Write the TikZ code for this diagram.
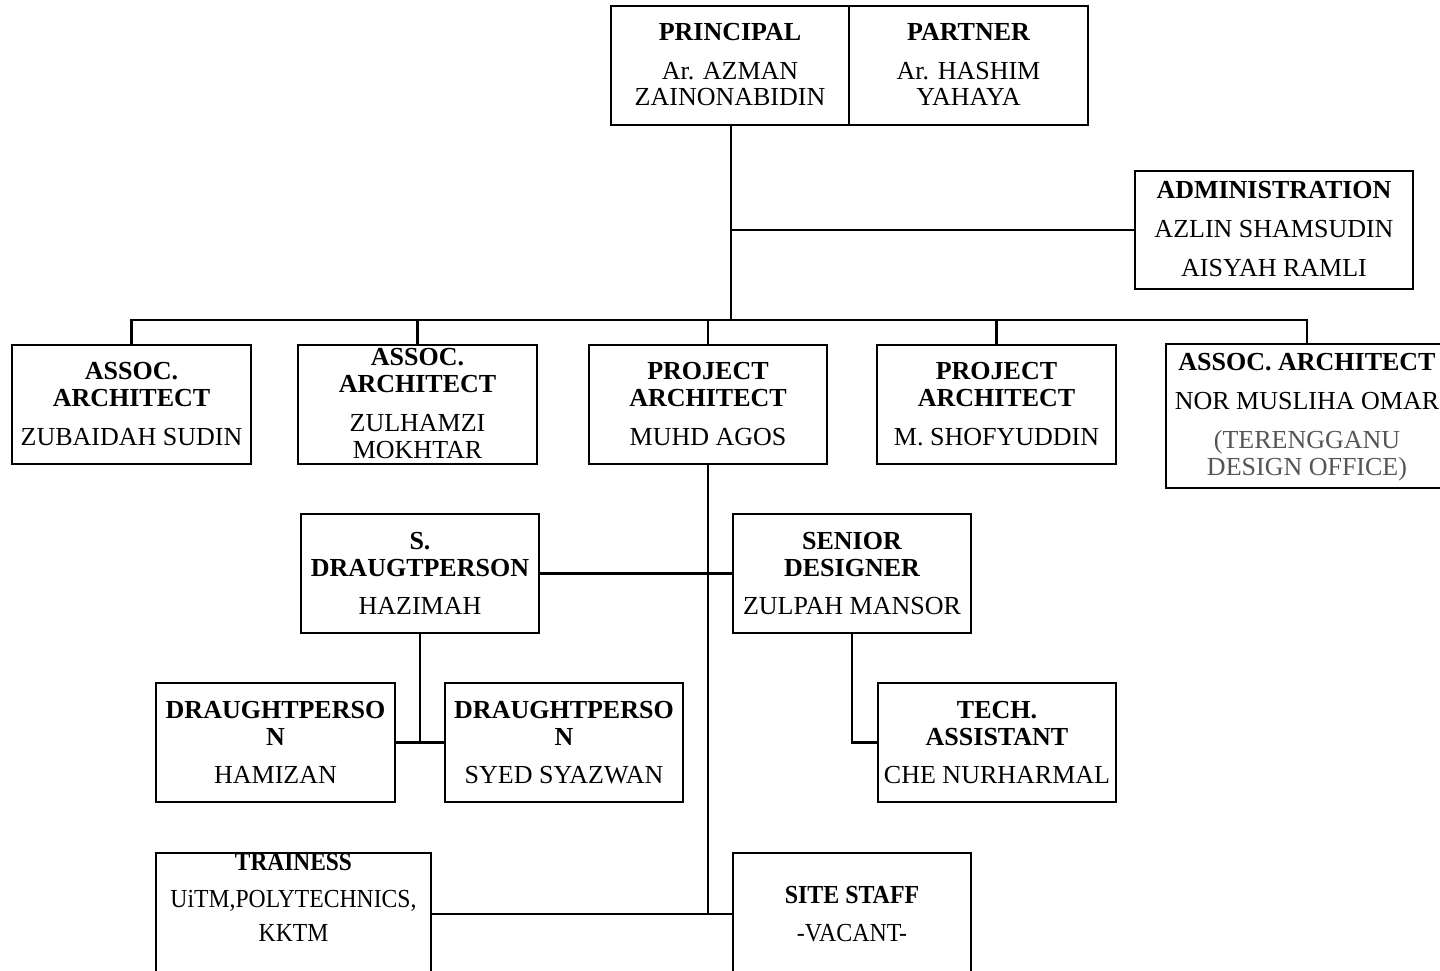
\documentclass[tikz,border=0pt]{standalone}
\usepackage{fontspec}
\setmainfont{Liberation Serif}
\definecolor{greytxt}{RGB}{85,85,85}
\tikzset{
  box/.style={draw=black, line width=2.6pt, rectangle, inner sep=0pt, fill=white},
  link/.style={draw=black, line width=2.2pt},
  txt/.style={anchor=base, inner sep=0pt, font=\fontsize{26}{27}\selectfont},
  hd/.style={txt, font=\fontsize{26}{27}\selectfont\bfseries},
  gtxt/.style={txt, text=greytxt}
}
\newcommand\boxat[5]{% name x1 y1 x2 y2
  \node[box, minimum width={#4-#2}, minimum height={#5-#3}] (#1) at ({(#2+#4)/2},{(#3+#5)/2}) {};}
\begin{document}
\begin{tikzpicture}[x=1pt,y=-1pt]
\useasboundingbox (0,0) rectangle (1440,970);
% coordinates
\coordinate (bus) at (0,320);
\coordinate (j1) at (731,320);
% boxes
\boxat{principal}{611}{6}{849}{125}
\boxat{partner}{849}{6}{1088}{125}
\boxat{admin}{1135}{171}{1413}{289}
\boxat{ac1}{12}{345}{251}{464}
\boxat{ac2}{298}{345}{537}{464}
\boxat{pa1}{589}{345}{827}{464}
\boxat{pa2}{877}{345}{1116}{464}
\boxat{ac5}{1166}{344}{1448}{488}
\boxat{sd}{301}{514}{539}{633}
\boxat{sdes}{733}{514}{971}{633}
\boxat{dp1}{156}{683}{395}{802}
\boxat{dp2}{445}{683}{683}{802}
\boxat{tech}{878}{683}{1116}{802}
\boxat{train}{156}{853}{431}{975}
\boxat{site}{733}{853}{971}{975}
\coordinate (ja) at (j1 |- admin.west);
% connectors
\draw[link] (j1 |- principal.south) -- (j1);
\draw[link] (ja) -- (admin.west);
\draw[link] (ac1.north) -- (ac1.north |- bus) -- (ac5.north |- bus) -- (ac5.north);
\draw[link] (ac2.north) -- (ac2.north |- bus);
\draw[link] (pa1.north) -- (pa1.north |- bus);
\draw[link] (pa2.north) -- (pa2.north |- bus);
\draw[link] (pa1.south) -- (pa1.south |- site.west);
\draw[link] (sd.east) -- (sdes.west);
\draw[link] (sd.south) -- (sd.south |- dp1.east);
\draw[link] (dp1.east) -- (dp2.west);
\draw[link] (sdes.south) |- (tech.west);
\draw[link] (train.east) -- (site.west);
% texts
\node[hd] (t1) at (730,32+8.6) {PRINCIPAL};
\node[txt] (t2) at (730,71+8.6) {Ar. AZMAN};
\node[txt] (t3) at (730,97+8.6) {ZAINONABIDIN};
\node[hd] (t4) at (968.5,32+8.6) {PARTNER};
\node[txt] (t5) at (968.5,71+8.6) {Ar. HASHIM};
\node[txt] (t6) at (968.5,97+8.6) {YAHAYA};
\node[hd] (t7) at (1274,190+8.6) {ADMINISTRATION};
\node[txt] (t8) at (1274,229+8.6) {AZLIN SHAMSUDIN};
\node[txt] (t9) at (1274,268+8.6) {AISYAH RAMLI};
\node[hd] (t10) at (131.5,371+8.6) {ASSOC.};
\node[hd] (t11) at (131.5,398+8.6) {ARCHITECT};
\node[txt] (t12) at (131.5,437+8.6) {ZUBAIDAH SUDIN};
\node[hd] (t13) at (417.5,357+8.6) {ASSOC.};
\node[hd] (t14) at (417.5,384+8.6) {ARCHITECT};
\node[txt] (t15) at (417.5,423+8.6) {ZULHAMZI};
\node[txt] (t16) at (417.5,450+8.6) {MOKHTAR};
\node[hd] (t17) at (708,371+8.6) {PROJECT};
\node[hd] (t18) at (708,398+8.6) {ARCHITECT};
\node[txt] (t19) at (708,437+8.6) {MUHD AGOS};
\node[hd] (t20) at (996.5,371+8.6) {PROJECT};
\node[hd] (t21) at (996.5,398+8.6) {ARCHITECT};
\node[txt] (t22) at (996.5,437+8.6) {M. SHOFYUDDIN};
\node[hd] (t23) at (1307,362+8.6) {ASSOC. ARCHITECT};
\node[txt] (t24) at (1307,401+8.6) {NOR MUSLIHA OMAR};
\node[gtxt] (t25) at (1307,440+8.6) {(TERENGGANU};
\node[gtxt] (t26) at (1307,467+8.6) {DESIGN OFFICE)};
\node[hd] (t27) at (420,541+8.6) {S.};
\node[hd] (t28) at (420,568+8.6) {DRAUGTPERSON};
\node[txt] (t29) at (420,606+8.6) {HAZIMAH};
\node[hd] (t30) at (852,541+8.6) {SENIOR};
\node[hd] (t31) at (852,568+8.6) {DESIGNER};
\node[txt] (t32) at (852,606+8.6) {ZULPAH MANSOR};
\node[hd] (t33) at (275.5,710+8.6) {DRAUGHTPERSO};
\node[hd] (t34) at (275.5,737+8.6) {N};
\node[txt] (t35) at (275.5,775+8.6) {HAMIZAN};
\node[hd] (t36) at (564,710+8.6) {DRAUGHTPERSO};
\node[hd] (t37) at (564,737+8.6) {N};
\node[txt] (t38) at (564,775+8.6) {SYED SYAZWAN};
\node[hd] (t39) at (997,710+8.6) {TECH.};
\node[hd] (t40) at (997,737+8.6) {ASSISTANT};
\node[txt] (t41) at (997,775+8.6) {CHE NURHARMAL};
\node[hd] (t42) at (293.5,862+8.6) {\scalebox{0.9}[1]{TRAINESS}};
\node[txt] (t43) at (293.5,899+8.6) {\scalebox{0.91}[1]{UiTM,POLYTECHNICS,}};
\node[txt] (t44) at (293.5,933+8.6) {\scalebox{0.91}[1]{KKTM}};
\node[hd] (t45) at (852,895+8.6) {\scalebox{0.92}[1]{SITE STAFF}};
\node[txt] (t46) at (852,933+8.6) {\scalebox{0.92}[1]{-VACANT-}};
\end{tikzpicture}
\end{document}
